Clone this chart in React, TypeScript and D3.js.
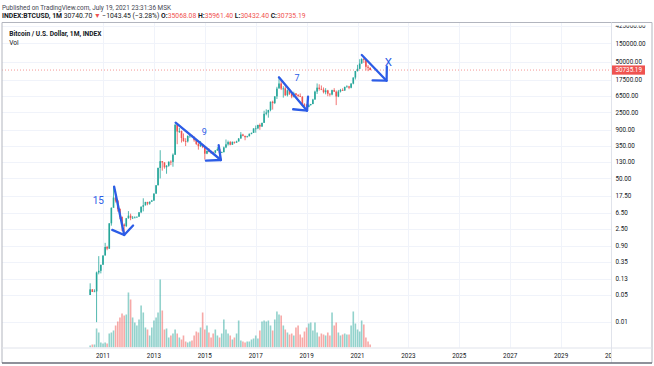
import { useEffect, useRef } from "react";
import * as d3 from "d3";

// Monthly BTCUSD index candles, Jul 2010 .. Jul 2021
const firstMonth = new Date(2010, 6, 1);
const firstOpen = 0.05;
const closes = [
  0.07, 0.06, 0.062, 0.19, 0.21, 0.3,
  0.52, 0.86, 0.78, 3.5, 8.74, 16.1, 13.4, 8.2, 5.14, 3.25, 2.97, 4.72,
  5.5, 4.86, 4.9, 4.95, 5.17, 6.7, 9.35, 10.2, 12.4, 11.2, 12.6, 13.5,
  20.4, 33.4, 93, 139, 129, 97, 106, 135, 133, 204, 1205, 805,
  829, 549, 457, 448, 627, 640, 586, 481, 386, 338, 378, 320,
  217, 254, 244, 236, 230, 263, 284, 230, 236, 314, 377, 430,
  368, 437, 416, 448, 531, 673, 624, 575, 608, 701, 742, 963,
  970, 1190, 1080, 1348, 2300, 2480, 2875, 4703, 4338, 6468, 10233, 13860,
  10221, 10326, 6926, 9240, 7495, 6390, 7730, 7025, 6625, 6318, 4017, 3742,
  3457, 3854, 4105, 5350, 8574, 10817, 10085, 9630, 8293, 9199, 7569, 7194,
  9350, 8543, 6424, 8629, 9455, 9138, 11333, 11645, 10778, 13791, 19713, 28990,
  33114, 45138, 58918, 57750, 37332, 35068.08, 30735.19,
];
const highs = [
  0.1, 0.07, 0.07, 0.2, 0.5, 0.3,
  0.52, 1.1, 0.92, 3.5, 9, 31.9, 17.5, 14, 8.5, 5.2, 3.5, 4.8,
  7.2, 6.2, 5.4, 5.3, 5.2, 6.8, 9.5, 15.4, 12.5, 12.5, 12.7, 14,
  20.5, 33.5, 95, 266, 140, 130, 110, 136, 146, 220, 1242, 1163,
  1000, 850, 720, 540, 630, 680, 660, 600, 500, 410, 460, 380,
  320, 265, 300, 260, 247, 268, 317, 285, 245, 330, 502, 469,
  460, 445, 440, 468, 548, 778, 704, 625, 625, 720, 755, 980,
  1150, 1200, 1300, 1350, 2760, 3000, 2920, 4750, 5000, 6480, 11400, 19666,
  17200, 11800, 11700, 9750, 9990, 7750, 8500, 7760, 7400, 7680, 6550, 4300,
  4100, 4200, 4140, 5600, 9080, 13900, 13200, 12330, 10950, 10500, 9510, 7750,
  9590, 10500, 9190, 9460, 10070, 10390, 11450, 12470, 12050, 14100, 19950, 29300,
  41950, 58350, 61780, 64900, 59500, 41300, 35961.4,
];
const lows = [
  0.05, 0.06, 0.06, 0.01, 0.17, 0.18,
  0.3, 0.52, 0.71, 0.77, 3.04, 10, 12, 7, 4.5, 2.2, 2, 2.8,
  4.6, 4.2, 4.5, 4.8, 4.9, 5.2, 6.4, 7.1, 10, 10.2, 10.5, 12.5,
  13.2, 19.8, 33, 50, 79, 89, 66, 100, 110, 100, 200, 380,
  740, 420, 440, 340, 420, 550, 570, 440, 360, 275, 320, 300,
  152, 210, 235, 215, 228, 220, 255, 162, 225, 236, 300, 350,
  355, 365, 392, 412, 444, 530, 605, 480, 570, 605, 683, 740,
  750, 920, 890, 1060, 1340, 2100, 1830, 2670, 2950, 4100, 5520, 10800,
  9400, 6000, 6600, 6430, 7050, 5780, 6070, 5880, 6100, 6200, 3650, 3150,
  3350, 3400, 3730, 4060, 5330, 7450, 9070, 9350, 7710, 7300, 6520, 6430,
  6860, 8470, 3850, 6170, 8140, 8900, 8980, 10960, 9880, 10420, 13200, 17570,
  28130, 32300, 45000, 47000, 30000, 28800, 30432.4,
];
const volumes = [
  2, 3, 3, 19, 15, 5,
  4, 5, 4, 14, 15, 17, 22, 26, 30, 34, 32, 33,
  55, 48, 30, 25, 22, 28, 42, 35, 20, 18, 12, 20,
  27, 30, 35, 68, 37, 18, 19, 10, 12, 14, 18, 14,
  10, 8, 12, 6, 5, 6, 7, 12, 16, 15, 20, 35,
  18, 22, 15, 10, 14, 18, 12, 10, 14, 28, 18, 14,
  12, 8, 10, 14, 27, 7, 6, 5, 6, 6, 8, 9,
  12, 9, 17, 26, 27, 26, 27, 22, 17, 28, 36, 33,
  32, 22, 18, 15, 13, 14, 12, 20, 22, 13, 10, 16,
  20, 24, 25, 17, 25, 15, 11, 14, 13, 12, 15, 12,
  35, 22, 25, 15, 12, 13, 14, 13, 13, 22, 36, 24,
  18, 16, 27, 23, 10, 6, 3,
];

const priceTicks = [425000, 150000, 50000, 17500, 6500, 2500, 900, 350, 130, 50, 17.5, 6.5, 2.5, 0.9, 0.35, 0.13, 0.05, 0.01];
const yearTicks = [2011, 2013, 2015, 2017, 2019, 2021, 2023, 2025, 2027, 2029, 2031];
const lastPrice = 30735.19;

// hand-drawn arrows on the chart: [date, price]
const arrows = [
  { label: "15", size: 10, from: [new Date(2011, 5, 10), 30.6], to: [new Date(2011, 10, 1), 1.75], text: [new Date(2010, 9, 25), 13.9], spread: 55, len: 13 },
  { label: "9", size: 9, from: [new Date(2013, 10, 8), 1358], to: [new Date(2015, 7, 20), 149], text: [new Date(2014, 11, 25), 796], spread: 42, len: 15 },
  { label: "7", size: 9, from: [new Date(2017, 10, 30), 20000], to: [new Date(2019, 0, 8), 2767], text: [new Date(2018, 7, 18), 18840], spread: 44, len: 14 },
  { label: "X", size: 11.5, from: [new Date(2021, 2, 3), 75000], to: [new Date(2022, 1, 22), 16370], text: [new Date(2022, 2, 18), 50450], spread: 45, len: 14 },
];

const W = 654;
const H = 366;
const up = "#26a69a";
const down = "#ef5350";
const blue = "#2c5ce6";
const font = "Roboto, 'Open Sans', sans-serif";

const App = () => {
  const svgRef = useRef<SVGSVGElement | null>(null);

  useEffect(() => {
    if (!svgRef.current) return;
    const svg = d3.select(svgRef.current);
    svg.selectAll("*").remove();

    // pane box
    const left = 2, right = 611, top = 22.5, bottom = 347.5, outerRight = 652;

    const x = d3.scaleTime()
      .domain([new Date(2011, 0, 1), new Date(2031, 0, 1)])
      .range([103, 612]);
    const y = d3.scaleLog().domain([150000, 0.05]).range([43.3, 295]);
    const vy = d3.scaleLinear().domain([0, d3.max(volumes) as number]).range([bottom, bottom - 68]);

    const bars = closes.map((c, i) => ({
      date: d3.timeMonth.offset(firstMonth, i),
      open: i === 0 ? firstOpen : closes[i - 1],
      high: highs[i],
      low: lows[i],
      close: c,
      vol: volumes[i],
    }));

    svg.append("rect").attr("width", W).attr("height", H).attr("fill", "#fff");

    // header
    const hdr = svg.append("g").attr("font-family", font).attr("font-size", 6.4);
    hdr.append("text").attr("x", 2).attr("y", 9.6).attr("fill", "#434651")
      .text("Published on TradingView.com, July 19, 2021 23:31:36 MSK");
    const l2 = hdr.append("text").attr("x", 2).attr("y", 18.2).attr("fill", "#131722").attr("font-size", 6.8);
    l2.append("tspan").attr("font-weight", 700).text("INDEX:BTCUSD, 1M ");
    l2.append("tspan").text(" 30740.70 ");
    l2.append("tspan").attr("fill", down).text("▼");
    l2.append("tspan").text(" −1043.45 (−3.28%) ");
    const ohlc = [["O:", "35068.08"], ["H:", "35961.40"], ["L:", "30432.40"], ["C:", "30735.19"]];
    ohlc.forEach(([k, v]) => {
      l2.append("tspan").attr("font-weight", 700).text(k);
      l2.append("tspan").attr("fill", down).text(v + " ");
    });

    // frame
    svg.append("defs").append("clipPath").attr("id", "pane")
      .append("rect").attr("x", left).attr("y", top).attr("width", right - left).attr("height", bottom - top);

    const grid = svg.append("g").attr("stroke", "#f0f3fa").attr("stroke-width", 1);
    priceTicks.forEach((p) => {
      const yy = Math.round(y(p)) + 0.5;
      if (yy > top && yy < bottom) grid.append("line").attr("x1", left).attr("x2", right).attr("y1", yy).attr("y2", yy);
    });
    yearTicks.forEach((yr) => {
      const xx = Math.round(x(new Date(yr, 0, 1))) + 0.5;
      if (xx < right) grid.append("line").attr("x1", xx).attr("x2", xx).attr("y1", top).attr("y2", bottom);
    });

    const pane = svg.append("g").attr("clip-path", "url(#pane)");

    // volume
    pane.append("g").selectAll("rect").data(bars).join("rect")
      .attr("x", (d) => x(d.date) - 0.8)
      .attr("width", 1.6)
      .attr("y", (d) => vy(d.vol))
      .attr("height", (d) => bottom - vy(d.vol))
      .attr("fill", (d) => (d.close >= d.open ? up : down))
      .attr("fill-opacity", 0.5);

    // last price line
    pane.append("line")
      .attr("x1", left).attr("x2", right)
      .attr("y1", y(lastPrice)).attr("y2", y(lastPrice))
      .attr("stroke", down).attr("stroke-opacity", 0.6)
      .attr("stroke-dasharray", "1,2");

    // candles
    const candles = pane.append("g").selectAll("g").data(bars).join("g")
      .attr("fill", (d) => (d.close >= d.open ? up : down))
      .attr("stroke", (d) => (d.close >= d.open ? up : down));
    candles.append("line")
      .attr("x1", (d) => x(d.date)).attr("x2", (d) => x(d.date))
      .attr("y1", (d) => y(d.high)).attr("y2", (d) => y(d.low))
      .attr("stroke-width", 0.8);
    candles.append("rect")
      .attr("stroke", "none")
      .attr("x", (d) => x(d.date) - 0.8)
      .attr("width", 1.6)
      .attr("y", (d) => y(Math.max(d.open, d.close)))
      .attr("height", (d) => Math.max(0.8, Math.abs(y(d.open) - y(d.close))));

    // drawn arrows
    const ann = pane.append("g").attr("stroke", blue).attr("stroke-width", 2.3)
      .attr("stroke-linecap", "round").attr("fill", "none");
    arrows.forEach((a) => {
      const x1 = x(a.from[0] as Date), y1 = y(a.from[1] as number);
      const x2 = x(a.to[0] as Date), y2 = y(a.to[1] as number);
      const back = Math.atan2(y1 - y2, x1 - x2);
      const s = (a.spread * Math.PI) / 180;
      ann.append("line").attr("x1", x1).attr("y1", y1).attr("x2", x2).attr("y2", y2);
      const arm = d3.line()([
        [x2 + a.len * Math.cos(back + s), y2 + a.len * Math.sin(back + s)],
        [x2, y2],
        [x2 + a.len * Math.cos(back - s), y2 + a.len * Math.sin(back - s)],
      ]);
      ann.append("path").attr("d", arm).attr("stroke-linejoin", "round");
      pane.append("text")
        .attr("x", x(a.text[0] as Date)).attr("y", y(a.text[1] as number))
        .attr("dy", "0.35em").attr("text-anchor", "middle")
        .attr("font-family", font).attr("font-size", a.size)
        .attr("fill", blue).text(a.label);
    });

    // pane title
    const ttl = svg.append("g").attr("font-family", font).attr("font-size", 6.6).attr("fill", "#131722");
    ttl.append("text").attr("x", 9.3).attr("y", 35.5).attr("font-weight", 700).text("Bitcoin / U.S. Dollar, 1M, INDEX");
    ttl.append("text").attr("x", 9.3).attr("y", 44.6).text("Vol");

    // price axis
    svg.append("defs").append("clipPath").attr("id", "paxis")
      .append("rect").attr("x", right).attr("y", top + 3).attr("width", outerRight - right).attr("height", bottom - top);
    const pax = svg.append("g").attr("clip-path", "url(#paxis)")
      .attr("font-family", font).attr("font-size", 6.3).attr("fill", "#131722");
    priceTicks.forEach((p) => {
      pax.append("text").attr("x", 615.5).attr("y", y(p)).attr("dy", "0.35em")
        .text(d3.format(".2f")(p));
    });
    const ly = y(lastPrice);
    svg.append("rect").attr("x", right).attr("y", ly - 4.6).attr("width", 34).attr("height", 9.2).attr("fill", down);
    svg.append("text").attr("x", 615.5).attr("y", ly).attr("dy", "0.35em")
      .attr("font-family", font).attr("font-size", 6.3).attr("fill", "#fff")
      .text(d3.format(".2f")(lastPrice));

    // time axis
    svg.append("defs").append("clipPath").attr("id", "taxis")
      .append("rect").attr("x", left).attr("y", bottom).attr("width", right - left + 1).attr("height", 15);
    const tax = svg.append("g").attr("clip-path", "url(#taxis)")
      .attr("font-family", font).attr("font-size", 6.3).attr("fill", "#131722");
    yearTicks.forEach((yr) => {
      tax.append("text").attr("x", x(new Date(yr, 0, 1))).attr("y", 356).attr("dy", "0.35em")
        .attr("text-anchor", "middle").text(yr);
    });

    // borders
    const bd = svg.append("g").attr("fill", "none");
    bd.append("line").attr("x1", left).attr("x2", outerRight).attr("y1", top).attr("y2", top).attr("stroke", "#b2b5be");
    bd.append("line").attr("x1", left).attr("x2", left).attr("y1", top).attr("y2", 363).attr("stroke", "#b2b5be");
    bd.append("line").attr("x1", outerRight).attr("x2", outerRight).attr("y1", top).attr("y2", 363).attr("stroke", "#b2b5be");
    bd.append("line").attr("x1", right + 0.5).attr("x2", right + 0.5).attr("y1", top).attr("y2", 363).attr("stroke", "#e0e3eb");
    bd.append("line").attr("x1", left).attr("x2", outerRight).attr("y1", bottom + 0.5).attr("y2", bottom + 0.5).attr("stroke", "#e0e3eb");
    bd.append("line").attr("x1", left).attr("x2", outerRight).attr("y1", 363).attr("y2", 363).attr("stroke", "#6a6d78").attr("stroke-width", 1.6);
  }, []);

  return (
    <div style={{ position: "absolute", left: 0, top: 0, width: W, height: H, background: "#fff" }}>
      <svg ref={svgRef} width={W} height={H} viewBox={`0 0 ${W} ${H}`} />
    </div>
  );
};

export default App;
